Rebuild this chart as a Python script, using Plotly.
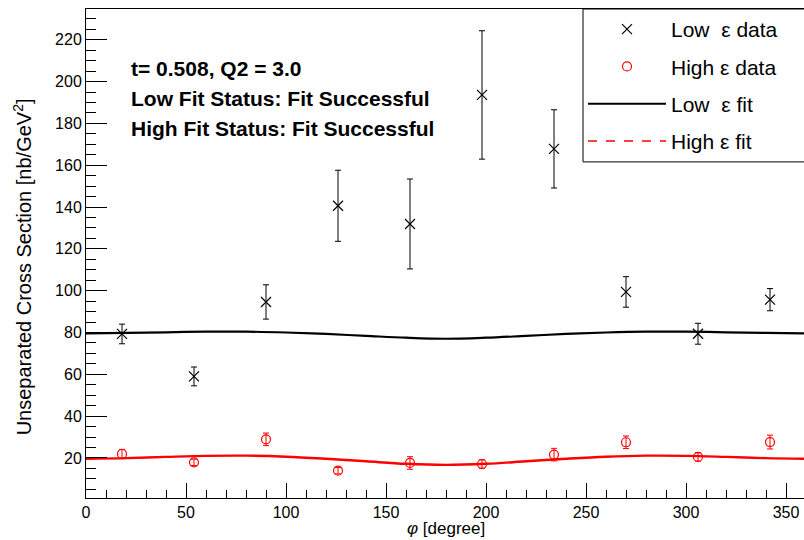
import plotly.graph_objects as go

# ---- data ----
phi = [18, 54, 90, 126, 162, 198, 234, 270, 306, 342]
low_eps = [79.3, 59.0, 94.6, 140.6, 131.9, 193.6, 167.8, 99.4, 79.4, 95.7]
low_err = [4.7, 4.5, 8.2, 17.0, 21.5, 30.7, 18.7, 7.3, 5.0, 5.3]
high_eps = [21.9, 17.9, 28.9, 13.9, 17.6, 17.1, 21.6, 27.5, 20.5, 27.6]
high_err = [2.2, 1.5, 3.0, 1.5, 3.0, 2.0, 3.0, 3.0, 2.0, 3.3]

fit_phi = [0, 20, 40, 60, 80, 100, 120, 140, 160, 180, 200, 220, 240, 260, 280, 300, 320, 340, 360]
low_fit = [79.6, 79.8, 80.1, 80.4, 80.4, 80.0, 79.3, 78.4, 77.5, 77.0, 77.5, 78.4, 79.3, 80.0, 80.4, 80.4, 80.1, 79.8, 79.6]
high_fit = [19.6, 19.9, 20.5, 21.0, 21.1, 20.6, 19.6, 18.4, 17.2, 16.7, 17.2, 18.4, 19.6, 20.6, 21.1, 21.0, 20.5, 19.9, 19.6]

info_lines = ["t= 0.508, Q2 = 3.0",
              "Low Fit Status: Fit Successful",
              "High Fit Status: Fit Successful"]

FONT = "Liberation Sans, Arial, sans-serif"
NB = "\u00a0"

fig = go.Figure()

fig.add_trace(go.Scatter(
    x=phi, y=low_eps, mode="markers", name="Low" + NB + " ε data",
    legendgroup="a",
    marker=dict(symbol="x-thin-open", size=10, color="black",
                line=dict(color="black", width=1.2)),
    error_y=dict(type="data", array=low_err, color="black", thickness=1, width=3),
))
fig.add_trace(go.Scatter(
    x=phi, y=high_eps, mode="markers", name="High ε data",
    legendgroup="b",
    marker=dict(symbol="circle-open", size=9, color="red",
                line=dict(color="red", width=1.2)),
    error_y=dict(type="data", array=high_err, color="red", thickness=1, width=3),
))
fig.add_trace(go.Scatter(
    x=fit_phi, y=low_fit, mode="lines", name="Low" + NB + " ε fit",
    legendgroup="c", line=dict(color="black", width=2.2, shape="spline"),
))
fig.add_trace(go.Scatter(
    x=fit_phi, y=high_fit, mode="lines", showlegend=False,
    legendgroup="d", line=dict(color="red", width=2.4, shape="spline"),
))
fig.add_trace(go.Scatter(
    x=[None], y=[None], mode="lines", name="High ε fit",
    legendgroup="d", line=dict(color="red", width=1.5, dash="dash"),
))

for i, t in enumerate(info_lines):
    fig.add_annotation(
        x=(129 - 86) / 718, y=(498.3 - (68.3 + 30 * i)) / 489.3,
        xref="paper", yref="paper", xanchor="left", yanchor="middle",
        text="<b>" + t + "</b>", showarrow=False,
        font=dict(family=FONT, size=21, color="black"),
    )

# axis titles
fig.add_annotation(
    x=(22 - 86) / 718, y=(498.3 - 267.5) / 489.3, xref="paper", yref="paper",
    xanchor="center", yanchor="middle", textangle=-90, showarrow=False,
    text="Unseparated Cross Section [nb/GeV<sup>2</sup>]",
    font=dict(family=FONT, size=20, color="black"),
)
fig.add_annotation(
    x=(446 - 86) / 718, y=(498.3 - 540) / 489.3, xref="paper", yref="paper",
    xanchor="center", yanchor="bottom", showarrow=False,
    text="<i>φ</i> [degree]",
    font=dict(family=FONT, size=17, color="black"),
)

# legend frame (extends past the right edge of the picture, as in the reference)
fig.add_shape(
    type="rect", xref="paper", yref="paper",
    x0=(583 - 86) / 718, x1=1.02, y0=(498.3 - 162) / 489.3, y1=1,
    line=dict(color="black", width=1), fillcolor="white", layer="below",
)

fig.update_layout(
    width=804, height=540,
    margin=dict(l=86, r=0, t=9, b=42, pad=0, autoexpand=False),
    paper_bgcolor="white", plot_bgcolor="white",
    font=dict(family=FONT, size=16, color="black"),
    showlegend=True,
    legend=dict(
        x=(583 - 86) / 718, y=1, xanchor="left", yanchor="top",
        bgcolor="rgba(0,0,0,0)", borderwidth=0,
        font=dict(family=FONT, size=21, color="black"),
        itemwidth=78, tracegroupgap=7, traceorder="grouped",
    ),
    xaxis=dict(
        range=[0, 359], showgrid=False, zeroline=False,
        showline=True, linecolor="black", linewidth=1, mirror=True,
        ticks="inside", ticklen=15, tickwidth=1, tickcolor="black",
        tick0=0, dtick=50,
        minor=dict(ticks="inside", ticklen=8, tickwidth=1, tickcolor="black", dtick=10, tick0=0),
        tickfont=dict(family=FONT, size=16, color="black"),
    ),
    yaxis=dict(
        range=[0.85, 234.7], showgrid=False, zeroline=False,
        showline=True, linecolor="black", linewidth=1, mirror=False,
        ticks="inside", ticklen=21, tickwidth=1, tickcolor="black",
        tick0=0, dtick=20,
        minor=dict(ticks="inside", ticklen=10, tickwidth=1, tickcolor="black", dtick=5, tick0=0),
        tickfont=dict(family=FONT, size=16, color="black"),
    ),
)

fig.write_html("out.html")
